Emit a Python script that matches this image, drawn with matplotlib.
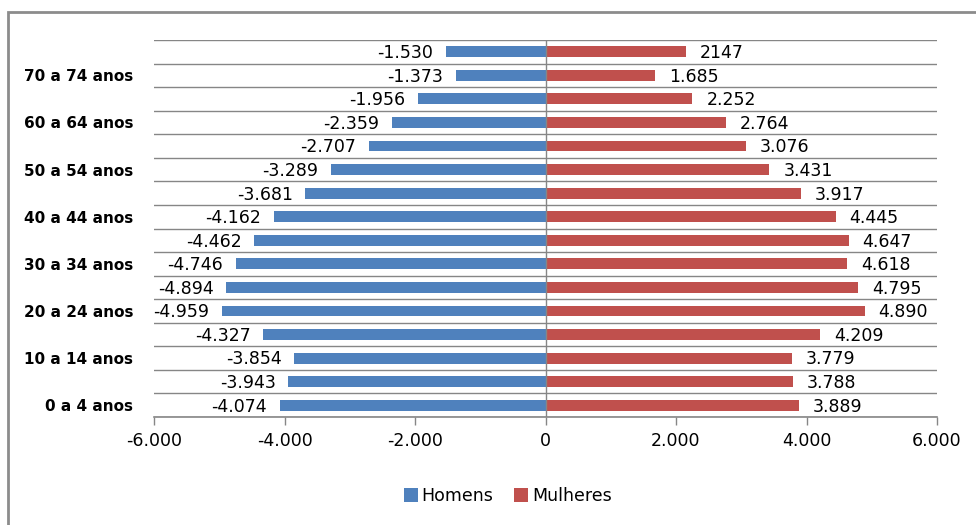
import numpy as np
import matplotlib.pyplot as plt
from matplotlib.patches import Rectangle
from matplotlib.ticker import FuncFormatter

# faixas etarias, de baixo para cima
faixas = ['0 a 4 anos', '5 a 9 anos', '10 a 14 anos', '15 a 19 anos',
          '20 a 24 anos', '25 a 29 anos', '30 a 34 anos', '35 a 39 anos',
          '40 a 44 anos', '45 a 49 anos', '50 a 54 anos', '55 a 59 anos',
          '60 a 64 anos', '65 a 69 anos', '70 a 74 anos', '75 anos ou mais']
homens = [-4074, -3943, -3854, -4327, -4959, -4894, -4746, -4462,
          -4162, -3681, -3289, -2707, -2359, -1956, -1373, -1530]
mulheres = [3889, 3788, 3779, 4209, 4890, 4795, 4618, 4647,
            4445, 3917, 3431, 3076, 2764, 2252, 1685, 2147]
xticks = [-6000, -4000, -2000, 0, 2000, 4000, 6000]

AZUL = '#4F81BD'
VERMELHO = '#C0504D'
CINZA = '#868686'


def fmt(v, pos=None):
    s = f'{abs(int(v)):,}'.replace(',', '.')
    return ('-' if v < 0 else '') + s


rot_homens = [fmt(v) for v in homens]
rot_mulheres = [fmt(v) for v in mulheres]
rot_mulheres[-1] = '2147'  # como aparece no original

plt.rcParams['font.family'] = ['DejaVu Sans']

fig = plt.figure(figsize=(9.76, 5.25), dpi=100)
ax = fig.add_axes([154 / 976, 1 - 417 / 525, (937 - 154) / 976, (417 - 40) / 525])

y = np.arange(len(faixas))
ax.barh(y, homens, height=0.46, color=AZUL, label='Homens', zorder=3)
ax.barh(y, mulheres, height=0.46, color=VERMELHO, label='Mulheres', zorder=3)

for i in range(len(faixas)):
    ax.annotate(rot_homens[i], (homens[i], y[i]), xytext=(-9, -1),
                textcoords='offset points', ha='right', va='center',
                fontsize=12.5, color='black')
    ax.annotate(rot_mulheres[i], (mulheres[i], y[i]), xytext=(10, -1),
                textcoords='offset points', ha='left', va='center',
                fontsize=12.5, color='black')

ax.set_xlim(-6000, 6000)
ax.set_ylim(-0.5, len(faixas) - 0.5)

# linhas de grade entre categorias
for g in np.arange(-0.5, len(faixas), 1.0):
    ax.axhline(g, color=CINZA, lw=1, zorder=1)
ax.axvline(0, color=CINZA, lw=1, zorder=4)

ax.set_xticks(xticks)
ax.xaxis.set_major_formatter(FuncFormatter(fmt))
ax.tick_params(axis='x', direction='out', length=6, color=CINZA, width=1,
               labelsize=12.5, pad=5)
ax.set_yticks(y)
ax.set_yticklabels([f if i % 2 == 0 else '' for i, f in enumerate(faixas)],
                   fontsize=11, fontweight='bold')
ax.tick_params(axis='y', length=0, pad=15)

for side in ['top', 'left', 'right']:
    ax.spines[side].set_visible(False)
ax.spines['bottom'].set_color(CINZA)
ax.spines['bottom'].set_linewidth(1.2)

ax.legend(loc='center', bbox_to_anchor=(0.452, -0.21), ncol=2, frameon=False,
          fontsize=12.5, handlelength=0.8, handleheight=0.8,
          handletextpad=0.2, columnspacing=1.2)

# moldura do grafico
fig.patches.append(Rectangle((8 / 976, -0.2), 1.2, 1 - 12 / 525 + 0.2,
                             transform=fig.transFigure, fill=False,
                             edgecolor='#8C8C8C', lw=2))

fig.savefig('out.png', dpi=100)
